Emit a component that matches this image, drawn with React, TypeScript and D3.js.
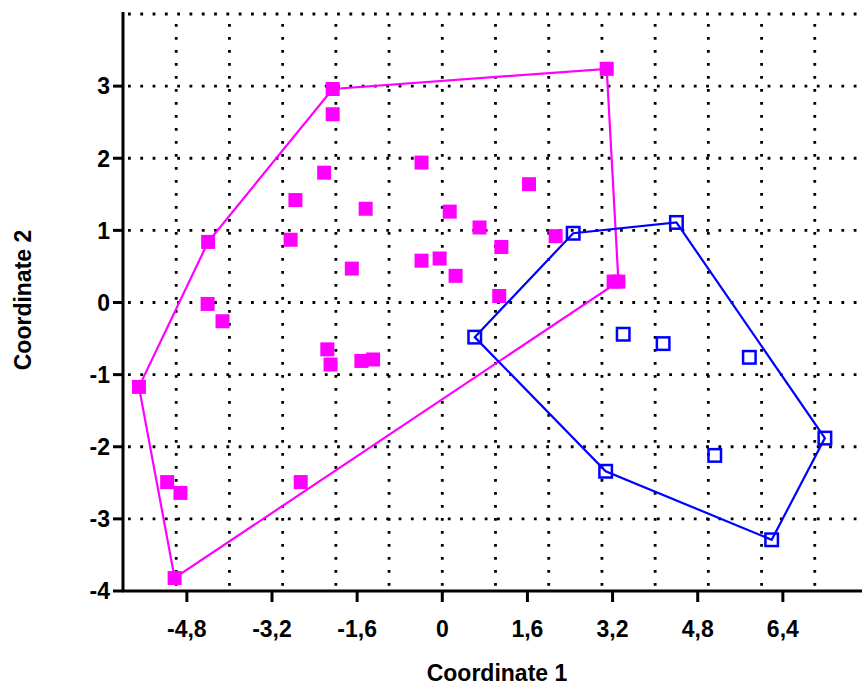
import React from "react";
import * as d3 from "d3";

const xTicks = [-4.8, -3.2, -1.6, 0, 1.6, 3.2, 4.8, 6.4];
const xTickLabels = ["-4,8", "-3,2", "-1,6", "0", "1,6", "3,2", "4,8", "6,4"];
const yTicks = [3, 2, 1, 0, -1, -2, -3, -4];
const yTickLabels = ["3", "2", "1", "0", "-1", "-2", "-3", "-4"];
const xGrid = [-5, -4, -3, -2, -1, 0, 1, 2, 3, 4, 5, 6, 7];
const yGrid = [4, 3, 2, 1, 0, -1, -2, -3];

const groupAX = [-2.06, -2.06, 3.09, -2.22, -2.76, -1.44, -4.40, -2.85, -4.41, -4.13, -5.70, -2.16, -2.10, -1.52, -1.30, -1.70, -0.39, 0.14, 0.70, 1.63, 1.11, -0.39, -0.05, 0.25, 1.07, 2.13, 3.22, 3.31, -2.66, -5.17, -4.92, -5.03];
const groupAY = [2.96, 2.61, 3.24, 1.80, 1.42, 1.30, 0.84, 0.87, -0.02, -0.26, -1.17, -0.65, -0.86, -0.81, -0.79, 0.47, 1.94, 1.26, 1.04, 1.64, 0.77, 0.58, 0.61, 0.37, 0.09, 0.92, 0.29, 0.29, -2.49, -2.49, -2.64, -3.82];

const groupBX = [2.46, 4.40, 0.61, 3.40, 4.15, 5.77, 7.19, 5.12, 3.07, 6.19];
const groupBY = [0.96, 1.11, -0.48, -0.44, -0.57, -0.76, -1.88, -2.12, -2.34, -3.29];

const W = 862;
const H = 685;
const FONT = "'Liberation Sans', Arial, sans-serif";

export default function App() {
  const x = d3.scaleLinear().domain([-6, 8]).range([123, 868]);
  const y = d3.scaleLinear().domain([-4, 4]).range([591, 14]);

  const ptsA: [number, number][] = groupAX.map((v, i) => [x(v), y(groupAY[i])]);
  const ptsB: [number, number][] = groupBX.map((v, i) => [x(v), y(groupBY[i])]);
  const hullA = d3.polygonHull(ptsA) || [];
  const hullB = d3.polygonHull(ptsB) || [];
  const line = d3.line<[number, number]>().curve(d3.curveLinearClosed);

  const magenta = "#FF00FF";
  const blue = "#0000FF";
  const sA = 14;
  const sB = 12.5;
  const fs = 23;

  return (
    <svg width={W} height={H} style={{ position: "absolute", left: 0, top: 0, background: "#fff" }}>
      <rect x={0} y={0} width={W} height={H} fill="#fff" />
      {/* grid */}
      {yGrid.map((g) => (
        <line key={"hg" + g} x1={128} x2={W} y1={y(g)} y2={y(g)} stroke="#000" strokeWidth={2.8} strokeDasharray="2.8,9.5" />
      ))}
      {xGrid.map((g) => (
        <line key={"vg" + g} x1={x(g)} x2={x(g)} y1={24} y2={586} stroke="#000" strokeWidth={2.8} strokeDasharray="2.8,10.2" />
      ))}
      {/* hulls */}
      <path d={line(hullA as [number, number][]) || ""} fill="none" stroke={magenta} strokeWidth={2.2} />
      <path d={line(hullB as [number, number][]) || ""} fill="none" stroke={blue} strokeWidth={2.2} />
      {/* points */}
      {ptsA.map((p, i) => (
        <rect key={"a" + i} x={p[0] - sA / 2} y={p[1] - sA / 2} width={sA} height={sA} fill={magenta} />
      ))}
      {ptsB.map((p, i) => (
        <rect key={"b" + i} x={p[0] - sB / 2} y={p[1] - sB / 2} width={sB} height={sB} fill="none" stroke={blue} strokeWidth={2.5} />
      ))}
      {/* axes */}
      <line x1={123} x2={123} y1={12} y2={592} stroke="#000" strokeWidth={3} />
      <line x1={122} x2={W} y1={591} y2={591} stroke="#000" strokeWidth={3} />
      {yTicks.map((t, i) => (
        <g key={"yt" + t}>
          <line x1={113} x2={123} y1={y(t)} y2={y(t)} stroke="#000" strokeWidth={3} />
          <text x={110} y={y(t)} dy="0.36em" textAnchor="end" fontFamily={FONT} fontWeight="bold" fontSize={fs} fill="#000">
            {yTickLabels[i]}
          </text>
        </g>
      ))}
      {xTicks.map((t, i) => (
        <g key={"xt" + t}>
          <line x1={x(t)} x2={x(t)} y1={591} y2={602} stroke="#000" strokeWidth={3} />
          <text x={x(t)} y={637} textAnchor="middle" fontFamily={FONT} fontWeight="bold" fontSize={fs} fill="#000">
            {xTickLabels[i]}
          </text>
        </g>
      ))}
      <text x={497} y={681} textAnchor="middle" fontFamily={FONT} fontWeight="bold" fontSize={fs} fill="#000">
        Coordinate 1
      </text>
      <text transform="translate(31,300) rotate(-90)" textAnchor="middle" fontFamily={FONT} fontWeight="bold" fontSize={fs} fill="#000">
        Coordinate 2
      </text>
    </svg>
  );
}
